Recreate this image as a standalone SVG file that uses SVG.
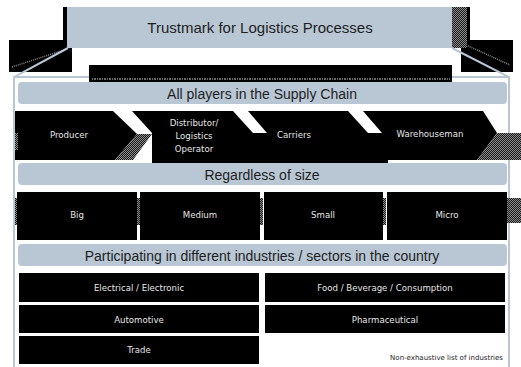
<svg xmlns="http://www.w3.org/2000/svg" width="521" height="367" viewBox="0 0 521 367">
<defs>
<pattern id="dith" width="2" height="2" patternUnits="userSpaceOnUse">
<rect width="2" height="2" fill="#1a1a1a"/>
<rect width="1" height="1" fill="#8c8c8c"/>
<rect x="1" y="1" width="1" height="1" fill="#8c8c8c"/>
</pattern>
<style>
.band{fill:#b9c7d5}
.blk{fill:#000}
.dth{fill:url(#dith)}
.ht{font-family:"Liberation Sans",Arial,sans-serif;fill:#1e1e1e;text-anchor:middle}
.wt{font-family:"DejaVu Sans",Verdana,sans-serif;font-size:8.6px;fill:#e6e6e6;text-anchor:middle}
.frame{fill:none;stroke:#b9c7d5;stroke-width:2}
</style>
</defs>
<rect width="521" height="367" fill="#fff"/>

<g id="header">
<rect x="9" y="40" width="63" height="32" class="blk"/>
<line x1="12" y1="67" x2="67" y2="49" stroke="#8a8a8a" stroke-width="1.5" stroke-dasharray="1 1"/>
<rect x="461" y="40" width="52" height="32" class="blk"/>
<line x1="466" y1="45" x2="510" y2="65" stroke="#8a8a8a" stroke-width="1.5" stroke-dasharray="1 1"/>
<rect x="63" y="7" width="5" height="41" class="blk"/>
<rect x="451" y="7" width="19" height="33" class="blk"/>
<rect x="451" y="7" width="16" height="41" class="dth"/>
<rect x="67" y="7" width="385" height="41" class="band"/>
<text x="260" y="33" class="ht" font-size="15">Trustmark for Logistics Processes</text>
<rect x="89" y="65" width="363" height="17" class="blk"/>
<line x1="92" y1="79" x2="450" y2="79" stroke="#6a6a6a" stroke-width="2" stroke-dasharray="1 1 2 1"/>
</g>

<g id="connectors" class="frame">
<polyline points="68,48 14,77 14,367"/>
<polyline points="452,48 509,77 509,367"/>
<line x1="14" y1="77" x2="89" y2="77"/>
<line x1="452" y1="77" x2="509" y2="77"/>
</g>

<g id="band-players">
<rect x="18" y="82" width="489" height="22" rx="4" class="band"/>
<text x="262" y="99" class="ht" font-size="14">All players in the Supply Chain</text>
</g>

<g id="chevrons">
<polygon class="blk" points="15,111 113,111 137,134 115,160 15,160"/>
<polygon class="blk" points="132,111 483,111 497,133 477,160 388,160 388,163 152,163 152,133"/>
<polygon fill="#fff" points="233,111 248,111 267,133 253,133"/>
<polygon fill="#fff" points="348,111 363,111 382,133 368,133"/>
<polygon class="dth" points="137,134 152,134 133,160 115,160"/>
<polygon class="dth" points="497,133 521,133 521,160 477,160"/>
<rect x="15" y="133" width="3" height="17" class="dth"/>
<text x="69" y="138" class="wt">Producer</text>
<text x="194" y="126" class="wt">Distributor/</text>
<text x="194" y="139" class="wt">Logistics</text>
<text x="194" y="152" class="wt">Operator</text>
<text x="294" y="138" class="wt">Carriers</text>
<text x="430" y="137" class="wt">Warehouseman</text>
</g>

<g id="band-size">
<rect x="18" y="163" width="489" height="22" rx="4" class="band"/>
<text x="262" y="180" class="ht" font-size="14">Regardless of size</text>
</g>

<g id="sizes">
<rect x="15" y="198" width="3" height="27" class="dth"/>
<rect x="136" y="198" width="4" height="27" class="dth"/>
<rect x="259" y="198" width="4" height="27" class="dth"/>
<rect x="382" y="198" width="4" height="27" class="dth"/>
<rect x="507" y="198" width="14" height="25" class="dth"/>
<rect x="17" y="192" width="120" height="48" class="blk"/>
<rect x="140" y="192" width="120" height="48" class="blk"/>
<rect x="264" y="192" width="119" height="48" class="blk"/>
<rect x="387" y="192" width="120" height="48" class="blk"/>
<text x="77" y="218" class="wt">Big</text>
<text x="200" y="218" class="wt">Medium</text>
<text x="323" y="218" class="wt">Small</text>
<text x="447" y="218" class="wt">Micro</text>
</g>

<g id="band-industries">
<rect x="18" y="244" width="489" height="22" rx="4" class="band"/>
<text x="262" y="261" class="ht" font-size="14">Participating in different industries / sectors in the country</text>
</g>

<g id="industries">
<rect x="19" y="273" width="240" height="29" class="blk"/>
<rect x="265" y="273" width="240" height="29" class="blk"/>
<rect x="19" y="305" width="240" height="28" class="blk"/>
<rect x="265" y="305" width="240" height="28" class="blk"/>
<rect x="19" y="336" width="240" height="28" class="blk"/>
<text x="139" y="291" class="wt">Electrical / Electronic</text>
<text x="385" y="291" class="wt">Food / Beverage / Consumption</text>
<text x="139" y="323" class="wt">Automotive</text>
<text x="385" y="323" class="wt">Pharmaceutical</text>
<text x="139" y="353" class="wt">Trade</text>
<text x="503" y="360" font-family="DejaVu Sans,Verdana,sans-serif" font-size="7" fill="#222" text-anchor="end">Non-exhaustive list of industries</text>
</g>
</svg>
